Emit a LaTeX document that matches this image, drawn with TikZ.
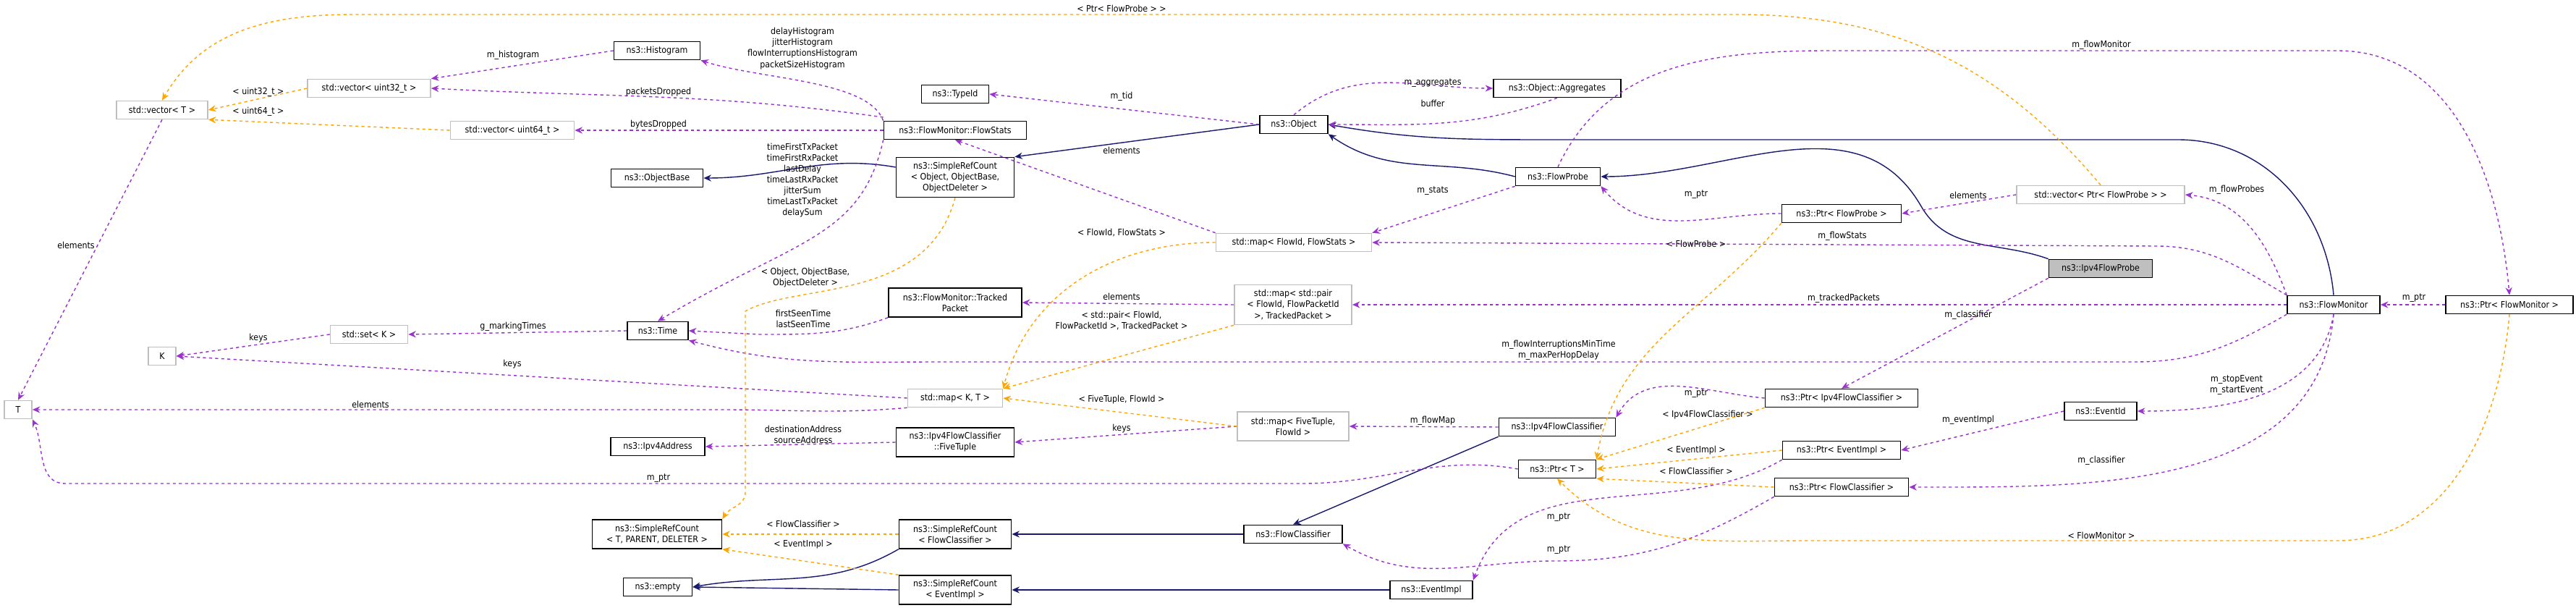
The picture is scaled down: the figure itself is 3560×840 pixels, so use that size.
\documentclass[tikz,border=0pt]{standalone}
\usepackage{fontspec}
\newfontfamily\dxfont{DejaVu Sans Condensed}
\usetikzlibrary{arrows.meta}
\definecolor{usecol}{HTML}{9A32CD}
\definecolor{tplcol}{HTML}{FFA500}
\definecolor{inhcol}{HTML}{191970}
\tikzset{
  box/.style={draw=black, line width=0.45pt, fill=white, align=center, inner sep=1pt,
    font=\dxfont\fontsize{3.5}{4.3}\selectfont, minimum height=0.25cm},
  tbox/.style={box, draw=black!25},
  lbl/.style={align=center, inner sep=0.5pt, font=\dxfont\fontsize{3.5}{4.3}\selectfont},
  use/.style={draw=usecol, line width=0.4pt, dash pattern=on 1.2pt off 1.2pt, -{Stealth[length=3pt,width=2.6pt]}},
  tpl/.style={use, draw=tplcol},
  inh/.style={draw=inhcol, line width=0.4pt, -{Stealth[length=3pt,width=2.6pt]}},
}
\begin{document}
\begin{tikzpicture}[x=0.01cm,y=0.01cm]
  \useasboundingbox (0,0) rectangle (3560,-840);
  % left column
  \node[tbox, minimum width=1.26cm] (vecT) at (224,-152) {std::vector< T >};
  \node[tbox, minimum width=0.38cm] (T) at (25,-566) {T};
  \node[tbox, minimum width=0.38cm] (K) at (224,-492) {K};
  \node[tbox, minimum width=1.7cm] (vec32) at (510,-122) {std::vector< uint32\_t >};
  \node[tbox, minimum width=1.71cm] (vec64) at (708,-180) {std::vector< uint64\_t >};
  \node[tbox, minimum width=1.07cm] (setK) at (510,-462) {std::set< K >};
  \node[box, minimum width=1.19cm] (Histogram) at (908,-70) {ns3::Histogram};
  \node[box, minimum width=1.27cm] (ObjectBase) at (908,-246) {ns3::ObjectBase};
  \node[box, minimum width=0.84cm] (Time) at (909,-457) {ns3::Time};
  \node[box, minimum width=1.3cm] (Ipv4Address) at (909,-617) {ns3::Ipv4Address};
  \node[box, minimum width=1.79cm, minimum height=0.4cm] (SRCT) at (908,-738) {ns3::SimpleRefCount\\< T, PARENT, DELETER >};
  \node[box, minimum width=0.95cm] (empty) at (909,-811) {ns3::empty};
  % second column
  \node[box, minimum width=0.93cm] (TypeId) at (1320,-130) {ns3::TypeId};
  \node[box, minimum width=1.97cm] (FlowStats) at (1320,-180) {ns3::FlowMonitor::FlowStats};
  \node[box, minimum width=1.63cm, minimum height=0.55cm] (SRCObject) at (1320,-245) {ns3::SimpleRefCount\\< Object, ObjectBase,\\ObjectDeleter >};
  \node[box, minimum width=1.84cm, minimum height=0.4cm] (Tracked) at (1320,-418) {ns3::FlowMonitor::Tracked\\Packet};
  \node[tbox, minimum width=1.31cm] (mapKT) at (1320,-550) {std::map< K, T >};
  \node[box, minimum width=1.63cm, minimum height=0.4cm] (FiveTuple) at (1320,-611) {ns3::Ipv4FlowClassifier\\::FiveTuple};
  \node[box, minimum width=1.55cm, minimum height=0.4cm] (SRCFC) at (1320,-738) {ns3::SimpleRefCount\\< FlowClassifier >};
  \node[box, minimum width=1.55cm, minimum height=0.4cm] (SRCEI) at (1320,-815) {ns3::SimpleRefCount\\< EventImpl >};
  % third column
  \node[box, minimum width=0.94cm] (Object) at (1788,-172) {ns3::Object};
  \node[tbox, minimum width=2.15cm] (mapFlowStats) at (1788,-335) {std::map< FlowId, FlowStats >};
  \node[tbox, minimum width=1.62cm, minimum height=0.55cm] (mapPair) at (1787,-421) {std::map< std::pair\\< FlowId, FlowPacketId\\>, TrackedPacket >};
  \node[tbox, minimum width=1.54cm, minimum height=0.4cm] (mapFiveTuple) at (1787,-589) {std::map< FiveTuple,\\FlowId >};
  \node[box, minimum width=1.36cm] (FlowClassifier) at (1787,-738) {ns3::FlowClassifier};
  \node[box, minimum width=1.14cm] (EventImpl) at (1978,-815) {ns3::EventImpl};
  % fourth column
  \node[box, minimum width=1.76cm] (Aggregates) at (2152,-122) {ns3::Object::Aggregates};
  \node[box, minimum width=1.17cm] (FlowProbe) at (2153,-244) {ns3::FlowProbe};
  \node[box, minimum width=1.61cm] (Ipv4FlowClassifier) at (2152,-590) {ns3::Ipv4FlowClassifier};
  \node[box, minimum width=1.07cm] (PtrT) at (2152,-648) {ns3::Ptr< T >};
  % fifth column
  \node[box, minimum width=1.65cm] (PtrFlowProbe) at (2545,-295) {ns3::Ptr< FlowProbe >};
  \node[box, minimum width=2.11cm] (PtrIpv4FC) at (2545,-550) {ns3::Ptr< Ipv4FlowClassifier >};
  \node[box, minimum width=1.63cm] (PtrEventImpl) at (2545,-622) {ns3::Ptr< EventImpl >};
  \node[box, minimum width=1.85cm] (PtrFC) at (2545,-673) {ns3::Ptr< FlowClassifier >};
  \node[tbox, minimum width=2.32cm] (vecPtrFlowProbe) at (2903,-269) {std::vector< Ptr< FlowProbe > >};
  \node[box, fill=black!25, minimum width=1.43cm] (Ipv4FlowProbe) at (2903,-371) {ns3::Ipv4FlowProbe};
  \node[box, minimum width=1.0cm] (EventId) at (2903,-568) {ns3::EventId};
  \node[box, minimum width=1.28cm] (FlowMonitor) at (3225,-421) {ns3::FlowMonitor};
  \node[box, minimum width=1.76cm] (PtrFlowMonitor) at (3468,-421) {ns3::Ptr< FlowMonitor >};

  % inheritance
  \draw[inh] (SRCObject.west |- 0,-231) to[out=170,in=0] (ObjectBase.east);
  \draw[inh] (Object.west) -- (SRCObject.north east);
  \draw[inh] (FlowProbe.west) to[out=165,in=-35] (Object.south east);
  \draw[inh] (FlowMonitor.north) to[out=95,in=0] (3010,-193) -- (2140,-193) to[out=180,in=-10] (Object.east);
  \draw[inh] (Ipv4FlowProbe.north west) to[out=160,in=-60] (2655,-285) to[out=120,in=0] (FlowProbe.east);
  \draw[inh] (Ipv4FlowClassifier.south west) -- (FlowClassifier.north);
  \draw[inh] (FlowClassifier.west) -- (SRCFC.east);
  \draw[inh] (SRCFC.south west) to[out=-150,in=10] (empty.east);
  \draw[inh] (EventImpl.west) -- (SRCEI.east);
  \draw[inh] (SRCEI.west) -- (empty.east);

  % usage
  \draw[use] (FlowStats.north west) .. controls (1200,-110) and (1050,-110) .. (Histogram.south east)
    node[lbl] at (1109,-67) {delayHistogram\\jitterHistogram\\flowInterruptionsHistogram\\packetSizeHistogram};
  \draw[use] (Histogram.west) -- (vec32.north east) node[lbl] at (709,-76) {m\_histogram};
  \draw[use] (FlowStats.west |- 0,-162) to[out=172,in=-3] (vec32.east) node[lbl] at (910,-127) {packetsDropped};
  \draw[use] (FlowStats.west) -- (vec64.east) node[lbl] at (910,-172) {bytesDropped};
  \draw[use] (vecT.south) -- (T.north) node[lbl] at (105,-339) {elements};
  \draw[use] (FlowStats.south west) .. controls (1190,-330) and (1100,-330) .. (Time.north)
    node[lbl] at (1109,-249) {timeFirstTxPacket\\timeFirstRxPacket\\lastDelay\\timeLastRxPacket\\jitterSum\\timeLastTxPacket\\delaySum};
  \draw[use] (Time.west) -- (setK.east) node[lbl] at (709,-451) {g\_markingTimes};
  \draw[use] (setK.west) -- (K.east) node[lbl] at (357,-467) {keys};
  \draw[use] (mapKT.west) -- (K.east) node[lbl] at (708,-503) {keys};
  \draw[use] (mapKT.south west) to[out=185,in=0] (1000,-566) -- (T.east) node[lbl] at (512,-559) {elements};
  \draw[use] (PtrT.west) to[out=170,in=0] (1800,-668) -- (90,-668) to[out=180,in=-65] (T.south east)
    node[lbl] at (910,-661) {m\_ptr};
  \draw[use] (Tracked.south west) to[out=-160,in=0] (1050,-462) -- (Time.east)
    node[lbl] at (1110,-440) {firstSeenTime\\lastSeenTime};
  \draw[use] (FlowMonitor.south west) to[out=-150,in=0] (2950,-500) -- (1300,-500) to[out=180,in=-15] (Time.south east)
    node[lbl] at (2154,-484) {m\_flowInterruptionsMinTime\\m\_maxPerHopDelay};
  \draw[use] (FiveTuple.west) -- (Ipv4Address.east) node[lbl] at (1110,-600) {destinationAddress\\sourceAddress};
  \draw[use] (Object.west) -- (TypeId.east) node[lbl] at (1550,-133) {m\_tid};
  \draw[use] (Object.north) to[out=40,in=180] (Aggregates.west) node[lbl] at (1980,-115) {m\_aggregates};
  \draw[use] (Aggregates.south) to[out=-160,in=0] (Object.east) node[lbl] at (1980,-143) {buffer};
  \draw[use] (mapFlowStats.north west) -- (FlowStats.south) node[lbl] at (1550,-208) {elements};
  \draw[use] (FlowProbe.south west) -- (mapFlowStats.north east) node[lbl] at (1980,-264) {m\_stats};
  \draw[use] (PtrFlowProbe.west) to[out=180,in=-50] (FlowProbe.south east) node[lbl] at (2344,-269) {m\_ptr};
  \draw[use] (FlowMonitor.north west) to[out=150,in=0] (2980,-340) -- (mapFlowStats.east)
    node[lbl] at (2546,-326) {m\_flowStats};
  \draw[use] (mapPair.west) -- (Tracked.east) node[lbl] at (1550,-410) {elements};
  \draw[use] (FlowMonitor.west) -- (mapPair.east) node[lbl] at (2548,-412) {m\_trackedPackets};
  \draw[use] (mapFiveTuple.west) -- (FiveTuple.east) node[lbl] at (1550,-592) {keys};
  \draw[use] (Ipv4FlowClassifier.west) -- (mapFiveTuple.east) node[lbl] at (1980,-581) {m\_flowMap};
  \draw[use] (PtrIpv4FC.west) to[out=175,in=60] (Ipv4FlowClassifier.north east) node[lbl] at (2344,-544) {m\_ptr};
  \draw[use] (Ipv4FlowProbe.south west) -- (PtrIpv4FC.north) node[lbl] at (2720,-435) {m\_classifier};
  \draw[use] (vecPtrFlowProbe.west) -- (PtrFlowProbe.east) node[lbl] at (2720,-270) {elements};
  \draw[use] (FlowMonitor.north west) to[out=110,in=-5] (vecPtrFlowProbe.east) node[lbl] at (3091,-262) {m\_flowProbes};
  \draw[use] (FlowProbe.north) to[out=65,in=180] (2530,-70) -- (3230,-70) to[out=0,in=95] (PtrFlowMonitor.north)
    node[lbl] at (2904,-62) {m\_flowMonitor};
  \draw[use] (PtrFlowMonitor.west) -- (FlowMonitor.east) node[lbl] at (3336,-412) {m\_ptr};
  \draw[use] (FlowMonitor.south) to[out=-100,in=0] (EventId.east) node[lbl] at (3091,-532) {m\_stopEvent\\m\_startEvent};
  \draw[use] (EventId.west) -- (PtrEventImpl.east) node[lbl] at (2720,-580) {m\_eventImpl};
  \draw[use] (PtrEventImpl.south west) to[out=-150,in=70] (EventImpl.north east) node[lbl] at (2154,-715) {m\_ptr};
  \draw[use] (PtrFC.south west) to[out=-150,in=0] (2150,-775) to[out=180,in=-30] (FlowClassifier.south east)
    node[lbl] at (2154,-760) {m\_ptr};
  \draw[use] (FlowMonitor.south) to[out=-95,in=0] (PtrFC.east) node[lbl] at (2904,-636) {m\_classifier};

  % templates
  \draw[tpl] (vec32.west) -- (vecT.east) node[lbl] at (357,-127) {< uint32\_t >};
  \draw[tpl] (vec64.west) -- (vecT.south east) node[lbl] at (357,-154) {< uint64\_t >};
  \draw[tpl] (vecPtrFlowProbe.north) to[out=130,in=0] (2400,-20) -- (490,-20) to[out=180,in=60] (vecT.north)
    node[lbl] at (1550,-12) {< Ptr< FlowProbe > >};
  \draw[tpl] (SRCObject.south) .. controls (1280,-420) and (1100,-390) .. (1030,-430) -- (1030,-680) to[out=-90,in=60] (SRCT.north east)
    node[lbl] at (1113,-384) {< Object, ObjectBase,\\ObjectDeleter >};
  \draw[tpl] (mapFlowStats.west) to[out=180,in=75] (mapKT.north east) node[lbl] at (1550,-322) {< FlowId, FlowStats >};
  \draw[tpl] (mapPair.south west) -- (mapKT.north east) node[lbl] at (1550,-443) {< std::pair< FlowId,\\FlowPacketId >, TrackedPacket >};
  \draw[tpl] (mapFiveTuple.west) -- (mapKT.east) node[lbl] at (1550,-552) {< FiveTuple, FlowId >};
  \draw[tpl] (SRCFC.west) -- (SRCT.east) node[lbl] at (1110,-724) {< FlowClassifier >};
  \draw[tpl] (SRCEI.north west) -- (SRCT.south east) node[lbl] at (1110,-752) {< EventImpl >};
  \draw[tpl] (PtrFlowProbe.south west) to[out=-130,in=80] (PtrT.north east) node[lbl] at (2344,-337) {< FlowProbe >};
  \draw[tpl] (PtrIpv4FC.south west) -- (PtrT.north east) node[lbl] at (2360,-573) {< Ipv4FlowClassifier >};
  \draw[tpl] (PtrEventImpl.west) -- (PtrT.east) node[lbl] at (2344,-622) {< EventImpl >};
  \draw[tpl] (PtrFC.west) -- (PtrT.south east) node[lbl] at (2344,-651) {< FlowClassifier >};
  \draw[tpl] (PtrFlowMonitor.south) to[out=-95,in=0] (3230,-747) -- (2500,-747) to[out=180,in=-45] (PtrT.south)
    node[lbl] at (2904,-740) {< FlowMonitor >};
\end{tikzpicture}
\end{document}
